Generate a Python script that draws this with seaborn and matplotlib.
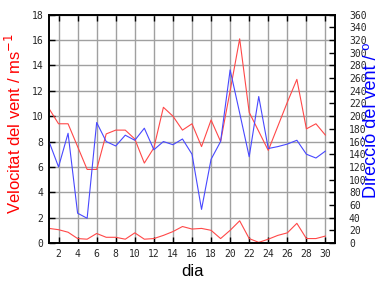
import numpy as np
import pandas as pd
import matplotlib
matplotlib.use("Agg")
import matplotlib.pyplot as plt
import seaborn as sns

days = list(range(1, 31))
vel_max = [10.6, 9.4, 9.4, 7.6, 5.8, 5.8, 8.6, 8.9, 8.9, 8.2, 6.3, 7.5, 10.7, 10.0, 8.9,
           9.4, 7.6, 9.7, 8.0, 12.0, 16.1, 10.3, 8.8, 7.3, 9.2, 11.1, 12.9, 9.0, 9.4, 8.5]
vel_min = [1.15, 1.05, 0.85, 0.35, 0.3, 0.75, 0.45, 0.45, 0.3, 0.8, 0.3, 0.35, 0.6, 0.9, 1.3,
           1.1, 1.15, 1.0, 0.35, 1.0, 1.75, 0.35, 0.05, 0.3, 0.6, 0.8, 1.55, 0.35, 0.35, 0.55]
direction = [160, 120, 173, 47, 39, 190, 160, 153, 170, 162, 181, 147, 160, 155, 164,
             140, 53, 132, 160, 273, 205, 136, 231, 149, 152, 156, 162, 140, 134, 145]

x_ticks = list(range(2, 31, 2))
left_ticks = list(range(0, 19, 2))
right_ticks = list(range(0, 361, 20))

sns.set_style("white")
plt.rcParams['font.family'] = ['Liberation Sans', 'DejaVu Sans']

df = pd.DataFrame({"dia": days, "vmax": vel_max, "vmin": vel_min, "dir": direction})

fig = plt.figure(figsize=(3.84, 2.88), dpi=100)
ax = fig.add_axes([49/384, 1-243/288, (335-49)/384, (243-14.7)/288])
ax2 = ax.twinx()

red = "#ff4848"
blue = "#4848ff"
lw = 0.8
sns.lineplot(data=df, x="dia", y="vmax", ax=ax, color=red, lw=lw)
sns.lineplot(data=df, x="dia", y="vmin", ax=ax, color=red, lw=lw)
sns.lineplot(data=df, x="dia", y="dir", ax=ax2, color=blue, lw=lw)

ax.set_xlim(1, 31)
ax.set_ylim(0, 18)
ax2.set_ylim(0, 360)

ax.set_xticks(x_ticks)
ax.set_yticks(left_ticks)
ax2.set_yticks(right_ticks)

ax.grid(True, color="#a0a0a0", lw=1.0)
ax.set_axisbelow(True)
ax2.grid(False)

mono = "DejaVu Sans Mono"
ax.tick_params(axis="both", direction="in", length=4, width=1, color="black",
               labelsize=7, top=True, bottom=True, left=True, right=False, pad=4)
ax2.tick_params(axis="y", direction="in", length=4, width=1, color="black",
                labelsize=7, pad=10)
for lab in ax.get_xticklabels() + ax.get_yticklabels() + ax2.get_yticklabels():
    lab.set_fontfamily(mono)

for a in (ax, ax2):
    for s in a.spines.values():
        s.set_color("black")
        s.set_linewidth(1.2)
        s.set_visible(True)

ax.set_xlabel("dia", fontsize=12, color="black")
ax.xaxis.set_label_coords(0.5, -0.09)
ax.set_ylabel("Velocitat del vent / ms$^{-1}$", fontsize=12, color="red")
ax.yaxis.set_label_coords(-0.088, 0.523)
ax2.set_ylabel("Direcció del vent / º", fontsize=13, color="blue", rotation=90)
ax2.yaxis.set_label_coords(1.098, 0.537)

fig.savefig("out.png", dpi=100, facecolor="white")
